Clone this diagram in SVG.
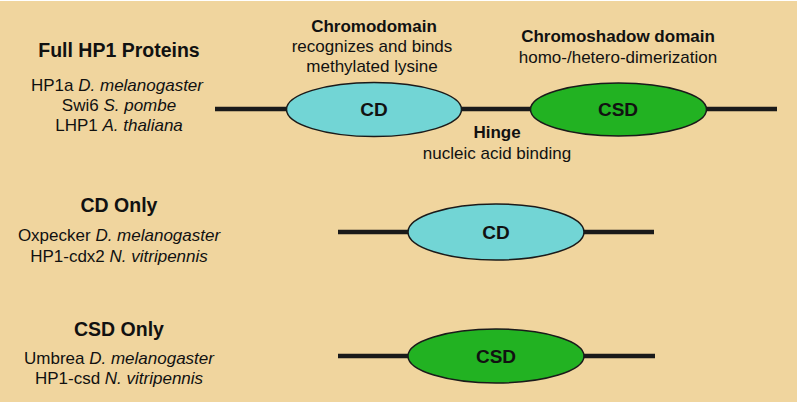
<svg xmlns="http://www.w3.org/2000/svg" width="797" height="402" viewBox="0 0 797 402">
<style>
text{font-family:"Liberation Sans",Arial,sans-serif;fill:#111;text-anchor:middle}
.h{font-weight:bold;font-size:19.5px}
.s{font-size:17px}
.b{font-weight:bold;font-size:17px}
.l{font-weight:bold;font-size:19px}
.cd{fill:#72D5D5;stroke:#1a1a1a;stroke-width:1.5}
.csd{fill:#22B222;stroke:#1a1a1a;stroke-width:1.5}
.ln{stroke:#1a1a1a;stroke-width:4.5;fill:none}
</style>
<rect x="0" y="0" width="797" height="402" fill="#F0D59E"/>
<rect x="0" y="0" width="797" height="1" fill="#fff"/>
<g id="connectors">
<line class="ln" x1="215" y1="109" x2="288" y2="109"/>
<line class="ln" x1="460" y1="109" x2="532" y2="109"/>
<line class="ln" x1="705" y1="109" x2="777" y2="109"/>
<line class="ln" x1="338" y1="232" x2="410" y2="232"/>
<line class="ln" x1="582" y1="232" x2="654" y2="232"/>
<line class="ln" x1="338" y1="356" x2="410" y2="356"/>
<line class="ln" x1="582" y1="356" x2="655" y2="356"/>
</g>
<g id="full-label">
<text class="h" x="119" y="57">Full HP1 Proteins</text>
<text class="s" x="117" y="91">HP1a <tspan font-style="italic">D. melanogaster</tspan></text>
<text class="s" x="119" y="111">Swi6 <tspan font-style="italic">S. pombe</tspan></text>
<text class="s" x="119" y="131">LHP1 <tspan font-style="italic">A. thaliana</tspan></text>
</g>
<g id="full-cd">
<ellipse class="cd" cx="374" cy="109.5" rx="87.5" ry="27"/>
<text class="l" x="374" y="116">CD</text>
<text class="b" x="374" y="32">Chromodomain</text>
<text class="s" x="372" y="52">recognizes and binds</text>
<text class="s" x="372" y="72">methylated lysine</text>
</g>
<g id="full-csd">
<ellipse class="csd" cx="618.5" cy="109.5" rx="88" ry="26.5"/>
<text class="l" x="618" y="116">CSD</text>
<text class="b" x="618" y="42">Chromoshadow domain</text>
<text class="s" x="618" y="63">homo-/hetero-dimerization</text>
</g>
<g id="hinge">
<text class="b" x="497" y="138">Hinge</text>
<text class="s" x="497" y="159">nucleic acid binding</text>
</g>
<g id="cd-only-label">
<text class="h" x="119" y="212">CD Only</text>
<text class="s" x="119" y="241">Oxpecker <tspan font-style="italic">D. melanogaster</tspan></text>
<text class="s" x="119" y="262">HP1-cdx2 <tspan font-style="italic">N. vitripennis</tspan></text>
</g>
<g id="cd-only">
<ellipse class="cd" cx="496" cy="232" rx="88" ry="28"/>
<text class="l" x="496" y="239">CD</text>
</g>
<g id="csd-only-label">
<text class="h" x="119" y="336">CSD Only</text>
<text class="s" x="119" y="364">Umbrea <tspan font-style="italic">D. melanogaster</tspan></text>
<text class="s" x="119" y="384">HP1-csd <tspan font-style="italic">N. vitripennis</tspan></text>
</g>
<g id="csd-only">
<ellipse class="csd" cx="496" cy="356" rx="88" ry="27"/>
<text class="l" x="496" y="363">CSD</text>
</g>
</svg>
